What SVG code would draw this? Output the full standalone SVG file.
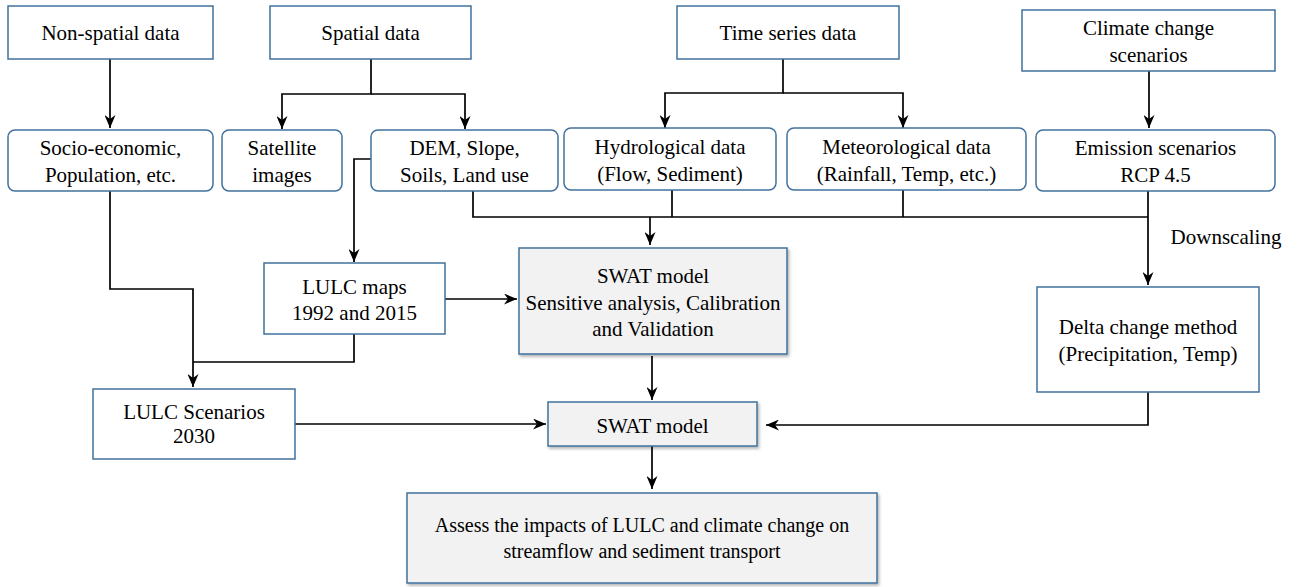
<svg xmlns="http://www.w3.org/2000/svg" width="1297" height="587" viewBox="0 0 1297 587">
<style>
.box{fill:#ffffff;stroke:#41719c;stroke-width:1.5}
.gbox{fill:#f2f2f2;stroke:#41719c;stroke-width:1.5}
.t{font-family:'Liberation Serif','Times New Roman',serif;font-size:21px;fill:#000;text-anchor:middle}
.s{font-size:20px}
.c{fill:none;stroke:#000;stroke-width:1.7}
.a{marker-end:url(#arr)}
</style>
<defs>
<marker id="arr" viewBox="0 0 13 11" refX="13" refY="5.5" markerWidth="13" markerHeight="11" markerUnits="userSpaceOnUse" orient="auto">
<path d="M0,0 L13,5.5 L0,11 L4,5.5 z" fill="#000"/>
</marker>
<filter id="sh" x="-10%" y="-10%" width="120%" height="130%">
<feDropShadow dx="1.5" dy="2" stdDeviation="1.5" flood-color="#000" flood-opacity="0.3"/>
</filter>
</defs>
<rect width="1297" height="587" fill="#fff"/>
<g id="connectors">
<path class="c a" d="M110,59 V128"/>
<path class="c a" d="M371,59 V94 H282 V129"/>
<path class="c a" d="M371,94 H465 V129"/>
<path class="c a" d="M783,59 V93 H665 V128"/>
<path class="c a" d="M783,93 H903 V128"/>
<path class="c a" d="M1149,71 V128"/>
<path class="c a" d="M371,159 H354 V262"/>
<path class="c" d="M473,191 V217 H1148"/>
<path class="c" d="M672,190 V217"/>
<path class="c" d="M903,190 V217"/>
<path class="c a" d="M1148,191 V285"/>
<path class="c a" d="M650,217 V245"/>
<path class="c a" d="M445,299 H517"/>
<path class="c a" d="M110,191 V289 H193 V387"/>
<path class="c" d="M354,334 V362 H193"/>
<path class="c a" d="M652,356 V400"/>
<path class="c a" d="M295,424 H546"/>
<path class="c a" d="M1148,392 V425 H766"/>
<path class="c a" d="M652,446 V489"/>
<text class="t" x="1226" y="244">Downscaling</text>
</g>
<g id="nonspatial"><rect class="box" x="8" y="6" width="205" height="53"/><text class="t" x="110.5" y="40">Non-spatial data</text></g>
<g id="spatial"><rect class="box" x="270" y="6" width="201" height="53"/><text class="t" x="370.5" y="40">Spatial data</text></g>
<g id="timeseries"><rect class="box" x="677" y="6" width="222" height="53"/><text class="t" x="788" y="40">Time series data</text></g>
<g id="climate"><rect class="box" x="1022" y="10" width="253" height="61"/><text class="t" x="1148.5" y="35">Climate change</text><text class="t" x="1148.5" y="62">scenarios</text></g>
<g id="socio"><rect class="box" x="8" y="130" width="205" height="61" rx="7"/><text class="t" x="110.5" y="155">Socio-economic,</text><text class="t" x="110.5" y="182">Population, etc.</text></g>
<g id="satellite"><rect class="box" x="222" y="130" width="120" height="61" rx="7"/><text class="t" x="282" y="155">Satellite</text><text class="t" x="282" y="182">images</text></g>
<g id="dem"><rect class="box" x="371" y="130" width="187" height="61" rx="7"/><text class="t" x="464.5" y="155">DEM, Slope,</text><text class="t" x="464.5" y="182">Soils, Land use</text></g>
<g id="hydro"><rect class="box" x="564" y="128" width="212" height="62" rx="7"/><text class="t" x="670" y="154">Hydrological data</text><text class="t" x="670" y="181">(Flow, Sediment)</text></g>
<g id="meteo"><rect class="box" x="787" y="128" width="239" height="62" rx="7"/><text class="t" x="906.5" y="154">Meteorological data</text><text class="t" x="906.5" y="181">(Rainfall, Temp, etc.)</text></g>
<g id="emission"><rect class="box" x="1036" y="130" width="239" height="61" rx="7"/><text class="t" x="1155.5" y="155">Emission scenarios</text><text class="t" x="1155.5" y="182">RCP 4.5</text></g>
<g id="lulcmaps"><rect class="box" x="264" y="263" width="181" height="71"/><text class="t" x="354.5" y="294">LULC maps</text><text class="t" x="354.5" y="320">1992 and 2015</text></g>
<g id="swat1"><rect class="gbox" x="519" y="248" width="268" height="106" filter="url(#sh)"/><text class="t" x="653" y="283">SWAT model</text><text class="t" x="653" y="310">Sensitive analysis, Calibration</text><text class="t" x="653" y="336">and Validation</text></g>
<g id="delta"><rect class="box" x="1037" y="287" width="222" height="105"/><text class="t" x="1148" y="334">Delta change method</text><text class="t" x="1148" y="361">(Precipitation, Temp)</text></g>
<g id="lulcscen"><rect class="box" x="93" y="389" width="202" height="70"/><text class="t" x="194" y="419">LULC Scenarios</text><text class="t" x="194" y="443">2030</text></g>
<g id="swat2"><rect class="gbox" x="548" y="402" width="209" height="44" filter="url(#sh)"/><text class="t" x="652.5" y="433">SWAT model</text></g>
<g id="assess"><rect class="gbox" x="407" y="493" width="470" height="90" filter="url(#sh)"/><text class="t s" x="642" y="532">Assess the impacts of LULC and climate change on</text><text class="t s" x="642" y="558">streamflow and sediment transport</text></g>
</svg>
